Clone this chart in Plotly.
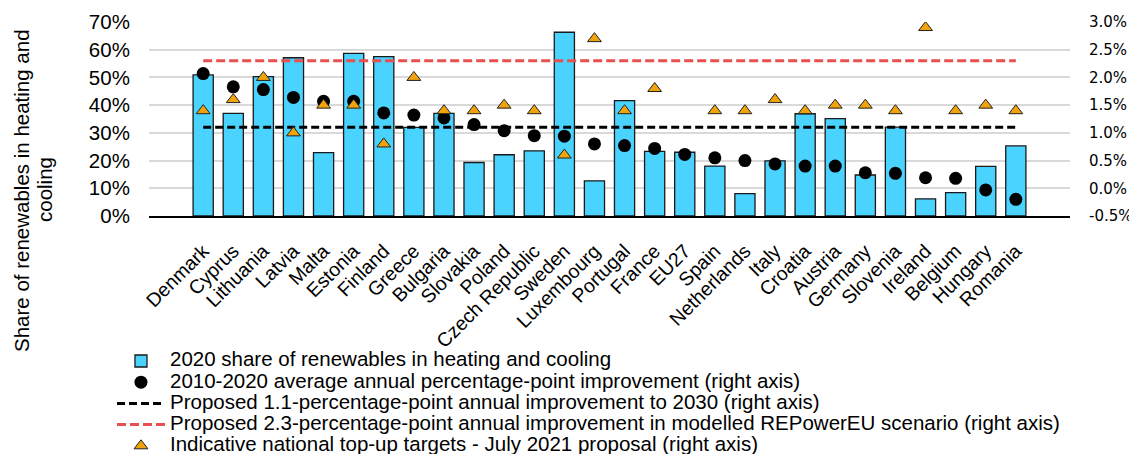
import plotly.graph_objects as go

countries = ["Denmark", "Cyprus", "Lithuania", "Latvia", "Malta", "Estonia", "Finland", "Greece",
             "Bulgaria", "Slovakia", "Poland", "Czech Republic", "Sweden", "Luxembourg", "Portugal",
             "France", "EU27", "Spain", "Netherlands", "Italy", "Croatia", "Austria", "Germany",
             "Slovenia", "Ireland", "Belgium", "Hungary", "Romania"]

share_2020 = [50.9, 37.0, 50.3, 57.1, 22.9, 58.7, 57.5, 32.0, 37.0, 19.3, 22.1, 23.5, 66.3, 12.7,
              41.6, 23.3, 23.0, 18.0, 8.1, 19.9, 36.9, 35.1, 14.8, 32.1, 6.2, 8.4, 17.9, 25.3]

avg_improvement = [2.07, 1.83, 1.78, 1.64, 1.57, 1.57, 1.36, 1.32, 1.27, 1.15, 1.04, 0.95, 0.94, 0.80,
                   0.77, 0.72, 0.61, 0.55, 0.50, 0.44, 0.40, 0.40, 0.28, 0.27, 0.19, 0.18, -0.03, -0.20]

topup_targets = [1.4, 1.6, 2.0, 1.0, 1.5, 1.5, 0.8, 2.0, 1.4, 1.4, 1.5, 1.4, 0.6, 2.7, 1.4, 1.8, None,
                 1.4, 1.4, 1.6, 1.4, 1.5, 1.5, 1.4, 2.9, 1.4, 1.5, 1.4]

proposed_11 = 1.1
proposed_23 = 2.3

left_tick_vals = [0, 10, 20, 30, 40, 50, 60, 70]
left_tick_text = ["0%", "10%", "20%", "30%", "40%", "50%", "60%", "70%"]
right_tick_vals = [-0.5, 0.0, 0.5, 1.0, 1.5, 2.0, 2.5, 3.0]
right_tick_text = ["-0.5%", "0.0%", "0.5%", "1.0%", "1.5%", "2.0%", "2.5%", "3.0%"]

legend_names = [
    "2020 share of renewables in heating and cooling",
    "2010-2020 average annual percentage-point improvement (right axis)",
    "Proposed 1.1-percentage-point annual improvement to 2030 (right axis)",
    "Proposed 2.3-percentage-point annual improvement in modelled REPowerEU scenario (right axis)",
    "Indicative national top-up targets - July 2021 proposal (right axis)",
]

ARIAL = "Liberation Sans, Arial, sans-serif"
RIGHT_FONT = "DejaVu Sans, Verdana, sans-serif"
FS = 20.5


def lg(name):
    return '<span style="font-size:%spx">%s</span>' % (FS, name)


fig = go.Figure()
fig.add_trace(go.Bar(
    x=countries, y=share_2020, name=lg(legend_names[0]),
    marker=dict(color="#4AD3FF", line=dict(color="#1a1a1a", width=1.3)), width=0.67, yaxis="y"))
fig.add_trace(go.Scatter(
    x=countries, y=avg_improvement, mode="markers", yaxis="y2", name=lg(legend_names[1]),
    marker=dict(symbol="circle", size=13, color="black")))
fig.add_trace(go.Scatter(
    x=countries, y=[proposed_11] * len(countries), mode="lines", yaxis="y2", name=lg(legend_names[2]),
    line=dict(color="black", width=3, dash="8px,4px")))
fig.add_trace(go.Scatter(
    x=countries, y=[proposed_23] * len(countries), mode="lines", yaxis="y2", name=lg(legend_names[3]),
    line=dict(color="#E8504F", width=3, dash="9px,4px")))
fig.add_trace(go.Scatter(
    x=countries, y=topup_targets, mode="markers", yaxis="y2", name=lg(legend_names[4]),
    marker=dict(symbol="triangle-up", size=12, color="#F0A30A", line=dict(color="#222", width=1))))

# The page body adds an 8px offset, so the figure is sized/placed to compensate.
fig.update_layout(
    width=1129, height=446,
    margin=dict(l=141, r=67, t=14, b=238, autoexpand=False),
    paper_bgcolor="white", plot_bgcolor="white",
    font=dict(family=ARIAL, size=FS, color="black"),
    xaxis=dict(tickangle=-45, showline=True, linecolor="black", linewidth=2,
               ticks="outside", ticklen=14, tickcolor="rgba(0,0,0,0)",
               tickfont=dict(size=19.5), showgrid=False, automargin=False),
    yaxis=dict(range=[0, 70], tickvals=left_tick_vals, ticktext=left_tick_text, showgrid=True,
               gridcolor="#d9d9d9", gridwidth=1.5, zeroline=False, tickfont=dict(size=FS),
               ticks="outside", ticklen=14, tickcolor="rgba(0,0,0,0)", automargin=False),
    yaxis2=dict(range=[-0.5, 3.0], tickvals=right_tick_vals, ticktext=right_tick_text,
                overlaying="y", side="right", showgrid=False, zeroline=False,
                tickfont=dict(size=15, family=RIGHT_FONT),
                ticks="outside", ticklen=15, tickcolor="rgba(0,0,0,0)", automargin=False),
    showlegend=True,
    legend=dict(x=-0.0402, y=-0.667, xanchor="left", yanchor="top", orientation="v",
                font=dict(size=14, family=ARIAL), itemwidth=48, tracegroupgap=0,
                bgcolor="rgba(0,0,0,0)"),
    annotations=[
        dict(text="Share of renewables in heating and", textangle=-90, xref="paper", yref="paper",
             x=-0.139, y=0.134, xanchor="center", yanchor="middle", showarrow=False,
             font=dict(size=FS)),
        dict(text="cooling", textangle=-90, xref="paper", yref="paper",
             x=-0.114, y=0.134, xanchor="center", yanchor="middle", showarrow=False,
             font=dict(size=FS)),
    ],
)

fig.write_html("out.html")
